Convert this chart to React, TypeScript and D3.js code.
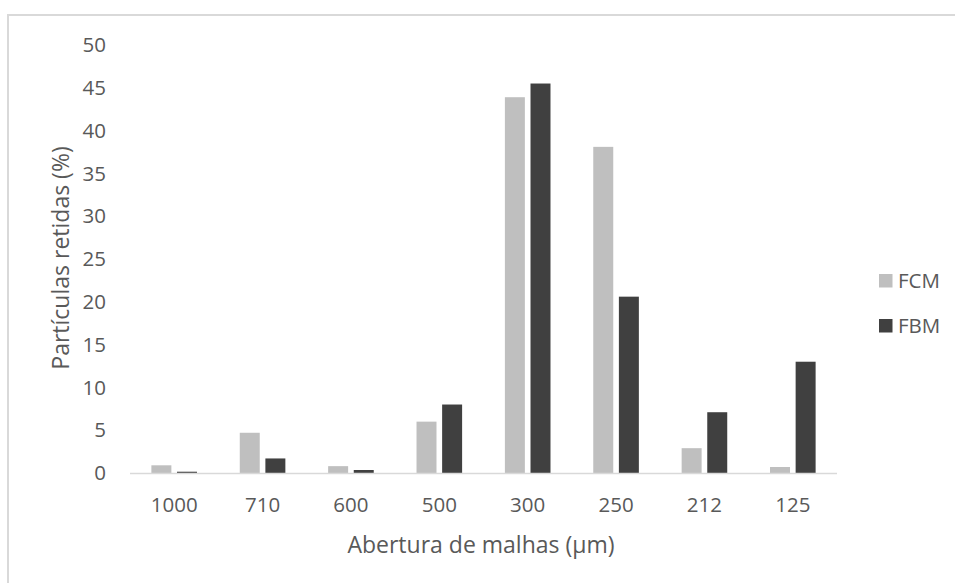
import React from "react";
import * as d3 from "d3";

// Sieve apertures (µm) and retained particle percentages per flour
const categories = ["1000", "710", "600", "500", "300", "250", "212", "125"];
const seriesNames = ["FCM", "FBM"];
const fcmValues = [0.9, 4.7, 0.8, 6.0, 43.9, 38.1, 2.9, 0.7];
const fbmValues = [0.15, 1.7, 0.35, 8.0, 45.5, 20.6, 7.1, 13.0];
const yTicks = [0, 5, 10, 15, 20, 25, 30, 35, 40, 45, 50];
const seriesColors = ["#bfbfbf", "#404040"];

const W = 955;
const H = 583;
const FONT = "'Open Sans', 'Liberation Sans', sans-serif";
const TEXT = "#595959";
const TICK_SIZE = 20.5;
const TITLE_SIZE = 23;

export default function App() {
  const plotLeft = 130;
  const plotRight = 837;
  const yZero = 473;
  const yTop = 45;

  const x0 = d3.scaleBand<string>().domain(categories).range([plotLeft, plotRight]);
  const groupW = 45.6;
  const x1 = d3
    .scaleBand<string>()
    .domain(seriesNames)
    .range([x0.bandwidth() / 2 - groupW / 2, x0.bandwidth() / 2 + groupW / 2])
    .paddingInner(0.22);
  const y = d3.scaleLinear().domain([0, 50]).range([yZero, yTop]);

  const values = [fcmValues, fbmValues];

  return (
    <svg
      width={W}
      height={H}
      style={{ position: "absolute", left: 0, top: 0, background: "#fff" }}
      fontFamily={FONT}
    >
      {/* chart area frame (runs past the right and bottom edges) */}
      <path d={`M8,${H + 5}V15H${W + 5}`} fill="none" stroke="#d9d9d9" strokeWidth={2} />

      {/* y tick labels */}
      {yTicks.map((t) => (
        <text
          key={t}
          x={106}
          y={y(t)}
          dy="0.35em"
          textAnchor="end"
          fontSize={TICK_SIZE}
          fill={TEXT}
        >
          {t}
        </text>
      ))}

      {/* bars */}
      {categories.map((c, i) => (
        <g key={c} transform={`translate(${x0(c)},0)`}>
          {seriesNames.map((s, k) => (
            <rect
              key={s}
              x={x1(s)}
              y={y(values[k][i])}
              width={x1.bandwidth()}
              height={yZero - y(values[k][i])}
              fill={seriesColors[k]}
            />
          ))}
        </g>
      ))}

      {/* x axis line */}
      <line x1={plotLeft} x2={plotRight} y1={yZero + 0.5} y2={yZero + 0.5} stroke="#d9d9d9" strokeWidth={1.5} />

      {/* x tick labels */}
      {categories.map((c) => (
        <text
          key={c}
          x={(x0(c) as number) + x0.bandwidth() / 2}
          y={505}
          dy="0.35em"
          textAnchor="middle"
          fontSize={TICK_SIZE}
          fill={TEXT}
        >
          {c}
        </text>
      ))}

      {/* axis titles */}
      <text x={481} y={545} dy="0.35em" textAnchor="middle" fontSize={TITLE_SIZE} fill={TEXT}>
        Abertura de malhas (µm)
      </text>
      <text
        transform={`translate(61,258) rotate(-90)`}
        dy="0.35em"
        textAnchor="middle"
        fontSize={TITLE_SIZE}
        fill={TEXT}
      >
        Partículas retidas (%)
      </text>

      {/* legend */}
      {seriesNames.map((s, k) => (
        <g key={s} transform={`translate(879,${274 + k * 45})`}>
          <rect width={13.5} height={13.5} fill={seriesColors[k]} />
          <text x={19} y={7} dy="0.35em" fontSize={TICK_SIZE} fill={TEXT}>
            {s}
          </text>
        </g>
      ))}
    </svg>
  );
}
